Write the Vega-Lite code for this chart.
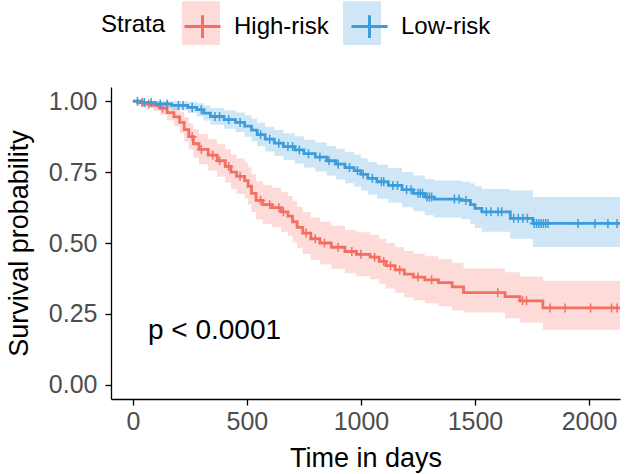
{
  "$schema": "https://vega.github.io/schema/vega-lite/v6.json",
  "width": 509,
  "height": 312,
  "autosize": "none",
  "padding": {"left": 111, "top": 87, "right": 10, "bottom": 75},
  "config": {
    "view": {"stroke": null},
    "font": "Liberation Sans",
    "axis": {
      "grid": false,
      "domainColor": "#000000",
      "domainWidth": 1.3,
      "tickColor": "#000000",
      "tickWidth": 1.3,
      "tickSize": 6,
      "labelColor": "#4D4D4D",
      "labelFontSize": 25,
      "labelFont": "Liberation Sans",
      "titleFont": "Liberation Sans",
      "titleFontSize": 27,
      "titleFontWeight": "normal",
      "titleColor": "#000000"
    },
    "legend": {
      "labelFont": "Liberation Sans",
      "titleFont": "Liberation Sans"
    }
  },
  "datasets": {
    "curve": [
      {"strata": "High-risk", "time": 0, "surv": 1.0, "lower": 1.0, "upper": 1.0},
      {"strata": "High-risk", "time": 20, "surv": 0.995, "lower": 0.985, "upper": 1.0},
      {"strata": "High-risk", "time": 50, "surv": 0.99, "lower": 0.975, "upper": 1.0},
      {"strata": "High-risk", "time": 90, "surv": 0.985, "lower": 0.965, "upper": 1.0},
      {"strata": "High-risk", "time": 120, "surv": 0.975, "lower": 0.952, "upper": 0.998},
      {"strata": "High-risk", "time": 150, "surv": 0.96, "lower": 0.932, "upper": 0.99},
      {"strata": "High-risk", "time": 180, "surv": 0.945, "lower": 0.912, "upper": 0.98},
      {"strata": "High-risk", "time": 205, "surv": 0.925, "lower": 0.888, "upper": 0.963},
      {"strata": "High-risk", "time": 225, "surv": 0.9, "lower": 0.858, "upper": 0.943},
      {"strata": "High-risk", "time": 245, "surv": 0.875, "lower": 0.83, "upper": 0.922},
      {"strata": "High-risk", "time": 265, "surv": 0.85, "lower": 0.8, "upper": 0.9},
      {"strata": "High-risk", "time": 290, "surv": 0.83, "lower": 0.778, "upper": 0.884},
      {"strata": "High-risk", "time": 330, "surv": 0.81, "lower": 0.756, "upper": 0.866},
      {"strata": "High-risk", "time": 370, "surv": 0.79, "lower": 0.734, "upper": 0.848},
      {"strata": "High-risk", "time": 405, "surv": 0.77, "lower": 0.712, "upper": 0.83},
      {"strata": "High-risk", "time": 430, "surv": 0.75, "lower": 0.69, "upper": 0.812},
      {"strata": "High-risk", "time": 455, "surv": 0.735, "lower": 0.673, "upper": 0.798},
      {"strata": "High-risk", "time": 490, "surv": 0.72, "lower": 0.657, "upper": 0.785},
      {"strata": "High-risk", "time": 505, "surv": 0.7, "lower": 0.636, "upper": 0.766},
      {"strata": "High-risk", "time": 520, "surv": 0.675, "lower": 0.609, "upper": 0.742},
      {"strata": "High-risk", "time": 540, "surv": 0.65, "lower": 0.583, "upper": 0.718},
      {"strata": "High-risk", "time": 570, "surv": 0.635, "lower": 0.567, "upper": 0.704},
      {"strata": "High-risk", "time": 610, "surv": 0.625, "lower": 0.556, "upper": 0.695},
      {"strata": "High-risk", "time": 650, "surv": 0.61, "lower": 0.54, "upper": 0.68},
      {"strata": "High-risk", "time": 680, "surv": 0.595, "lower": 0.524, "upper": 0.666},
      {"strata": "High-risk", "time": 700, "surv": 0.575, "lower": 0.503, "upper": 0.647},
      {"strata": "High-risk", "time": 720, "surv": 0.555, "lower": 0.482, "upper": 0.628},
      {"strata": "High-risk", "time": 745, "surv": 0.535, "lower": 0.461, "upper": 0.609},
      {"strata": "High-risk", "time": 780, "surv": 0.515, "lower": 0.44, "upper": 0.59},
      {"strata": "High-risk", "time": 820, "surv": 0.5, "lower": 0.425, "upper": 0.575},
      {"strata": "High-risk", "time": 870, "surv": 0.485, "lower": 0.409, "upper": 0.561},
      {"strata": "High-risk", "time": 930, "surv": 0.47, "lower": 0.393, "upper": 0.547},
      {"strata": "High-risk", "time": 980, "surv": 0.46, "lower": 0.383, "upper": 0.538},
      {"strata": "High-risk", "time": 1040, "surv": 0.45, "lower": 0.372, "upper": 0.529},
      {"strata": "High-risk", "time": 1080, "surv": 0.435, "lower": 0.356, "upper": 0.514},
      {"strata": "High-risk", "time": 1110, "surv": 0.42, "lower": 0.34, "upper": 0.5},
      {"strata": "High-risk", "time": 1150, "surv": 0.405, "lower": 0.325, "upper": 0.486},
      {"strata": "High-risk", "time": 1190, "surv": 0.39, "lower": 0.309, "upper": 0.472},
      {"strata": "High-risk", "time": 1230, "surv": 0.38, "lower": 0.298, "upper": 0.462},
      {"strata": "High-risk", "time": 1280, "surv": 0.37, "lower": 0.288, "upper": 0.453},
      {"strata": "High-risk", "time": 1340, "surv": 0.36, "lower": 0.277, "upper": 0.444},
      {"strata": "High-risk", "time": 1400, "surv": 0.345, "lower": 0.262, "upper": 0.43},
      {"strata": "High-risk", "time": 1450, "surv": 0.325, "lower": 0.255, "upper": 0.41},
      {"strata": "High-risk", "time": 1632, "surv": 0.311, "lower": 0.235, "upper": 0.397},
      {"strata": "High-risk", "time": 1697, "surv": 0.296, "lower": 0.22, "upper": 0.382},
      {"strata": "High-risk", "time": 1798, "surv": 0.271, "lower": 0.194, "upper": 0.367},
      {"strata": "High-risk", "time": 2136, "surv": 0.271, "lower": 0.194, "upper": 0.367},
      {"strata": "Low-risk", "time": 0, "surv": 1.0, "lower": 1.0, "upper": 1.0},
      {"strata": "Low-risk", "time": 40, "surv": 0.995, "lower": 0.985, "upper": 1.0},
      {"strata": "Low-risk", "time": 100, "surv": 0.99, "lower": 0.976, "upper": 1.0},
      {"strata": "Low-risk", "time": 170, "surv": 0.985, "lower": 0.968, "upper": 1.0},
      {"strata": "Low-risk", "time": 240, "surv": 0.978, "lower": 0.958, "upper": 0.998},
      {"strata": "Low-risk", "time": 280, "surv": 0.97, "lower": 0.947, "upper": 0.993},
      {"strata": "Low-risk", "time": 310, "surv": 0.958, "lower": 0.932, "upper": 0.985},
      {"strata": "Low-risk", "time": 340, "surv": 0.946, "lower": 0.917, "upper": 0.976},
      {"strata": "Low-risk", "time": 400, "surv": 0.935, "lower": 0.903, "upper": 0.968},
      {"strata": "Low-risk", "time": 450, "surv": 0.925, "lower": 0.891, "upper": 0.96},
      {"strata": "Low-risk", "time": 490, "surv": 0.912, "lower": 0.875, "upper": 0.95},
      {"strata": "Low-risk", "time": 520, "surv": 0.898, "lower": 0.859, "upper": 0.938},
      {"strata": "Low-risk", "time": 545, "surv": 0.882, "lower": 0.841, "upper": 0.924},
      {"strata": "Low-risk", "time": 580, "surv": 0.866, "lower": 0.823, "upper": 0.91},
      {"strata": "Low-risk", "time": 620, "surv": 0.852, "lower": 0.807, "upper": 0.898},
      {"strata": "Low-risk", "time": 660, "surv": 0.84, "lower": 0.793, "upper": 0.887},
      {"strata": "Low-risk", "time": 710, "surv": 0.828, "lower": 0.78, "upper": 0.876},
      {"strata": "Low-risk", "time": 750, "surv": 0.815, "lower": 0.766, "upper": 0.864},
      {"strata": "Low-risk", "time": 800, "surv": 0.803, "lower": 0.752, "upper": 0.854},
      {"strata": "Low-risk", "time": 850, "surv": 0.79, "lower": 0.738, "upper": 0.842},
      {"strata": "Low-risk", "time": 890, "surv": 0.778, "lower": 0.724, "upper": 0.832},
      {"strata": "Low-risk", "time": 930, "surv": 0.766, "lower": 0.711, "upper": 0.821},
      {"strata": "Low-risk", "time": 970, "surv": 0.755, "lower": 0.699, "upper": 0.811},
      {"strata": "Low-risk", "time": 1000, "surv": 0.742, "lower": 0.685, "upper": 0.799},
      {"strata": "Low-risk", "time": 1030, "surv": 0.728, "lower": 0.67, "upper": 0.786},
      {"strata": "Low-risk", "time": 1070, "surv": 0.716, "lower": 0.656, "upper": 0.776},
      {"strata": "Low-risk", "time": 1120, "surv": 0.703, "lower": 0.642, "upper": 0.764},
      {"strata": "Low-risk", "time": 1180, "surv": 0.688, "lower": 0.626, "upper": 0.75},
      {"strata": "Low-risk", "time": 1230, "surv": 0.675, "lower": 0.612, "upper": 0.738},
      {"strata": "Low-risk", "time": 1280, "surv": 0.662, "lower": 0.598, "upper": 0.726},
      {"strata": "Low-risk", "time": 1320, "surv": 0.655, "lower": 0.59, "upper": 0.72},
      {"strata": "Low-risk", "time": 1440, "surv": 0.65, "lower": 0.584, "upper": 0.716},
      {"strata": "Low-risk", "time": 1480, "surv": 0.635, "lower": 0.567, "upper": 0.71},
      {"strata": "Low-risk", "time": 1500, "surv": 0.622, "lower": 0.553, "upper": 0.7},
      {"strata": "Low-risk", "time": 1530, "surv": 0.61, "lower": 0.54, "upper": 0.69},
      {"strata": "Low-risk", "time": 1655, "surv": 0.587, "lower": 0.515, "upper": 0.685},
      {"strata": "Low-risk", "time": 1754, "surv": 0.569, "lower": 0.486, "upper": 0.662},
      {"strata": "Low-risk", "time": 2136, "surv": 0.569, "lower": 0.486, "upper": 0.662}
    ],
    "censor": [
      {"strata": "High-risk", "time": 40, "surv": 0.995},
      {"strata": "High-risk", "time": 70, "surv": 0.99},
      {"strata": "High-risk", "time": 130, "surv": 0.975},
      {"strata": "High-risk", "time": 260, "surv": 0.875},
      {"strata": "High-risk", "time": 300, "surv": 0.83},
      {"strata": "High-risk", "time": 350, "surv": 0.81},
      {"strata": "High-risk", "time": 380, "surv": 0.79},
      {"strata": "High-risk", "time": 420, "surv": 0.77},
      {"strata": "High-risk", "time": 470, "surv": 0.735},
      {"strata": "High-risk", "time": 560, "surv": 0.65},
      {"strata": "High-risk", "time": 600, "surv": 0.635},
      {"strata": "High-risk", "time": 640, "surv": 0.625},
      {"strata": "High-risk", "time": 660, "surv": 0.61},
      {"strata": "High-risk", "time": 760, "surv": 0.535},
      {"strata": "High-risk", "time": 800, "surv": 0.515},
      {"strata": "High-risk", "time": 840, "surv": 0.5},
      {"strata": "High-risk", "time": 900, "surv": 0.485},
      {"strata": "High-risk", "time": 960, "surv": 0.47},
      {"strata": "High-risk", "time": 1000, "surv": 0.46},
      {"strata": "High-risk", "time": 1060, "surv": 0.45},
      {"strata": "High-risk", "time": 1100, "surv": 0.435},
      {"strata": "High-risk", "time": 1130, "surv": 0.42},
      {"strata": "High-risk", "time": 1170, "surv": 0.405},
      {"strata": "High-risk", "time": 1250, "surv": 0.38},
      {"strata": "High-risk", "time": 1310, "surv": 0.37},
      {"strata": "High-risk", "time": 1600, "surv": 0.325},
      {"strata": "High-risk", "time": 1709, "surv": 0.296},
      {"strata": "High-risk", "time": 1726, "surv": 0.296},
      {"strata": "High-risk", "time": 1829, "surv": 0.271},
      {"strata": "High-risk", "time": 1895, "surv": 0.271},
      {"strata": "High-risk", "time": 2007, "surv": 0.271},
      {"strata": "High-risk", "time": 2099, "surv": 0.271},
      {"strata": "High-risk", "time": 2123, "surv": 0.271},
      {"strata": "Low-risk", "time": 20, "surv": 1.0},
      {"strata": "Low-risk", "time": 50, "surv": 0.995},
      {"strata": "Low-risk", "time": 80, "surv": 0.995},
      {"strata": "Low-risk", "time": 120, "surv": 0.99},
      {"strata": "Low-risk", "time": 150, "surv": 0.99},
      {"strata": "Low-risk", "time": 200, "surv": 0.985},
      {"strata": "Low-risk", "time": 220, "surv": 0.985},
      {"strata": "Low-risk", "time": 260, "surv": 0.978},
      {"strata": "Low-risk", "time": 300, "surv": 0.97},
      {"strata": "Low-risk", "time": 360, "surv": 0.946},
      {"strata": "Low-risk", "time": 380, "surv": 0.946},
      {"strata": "Low-risk", "time": 420, "surv": 0.935},
      {"strata": "Low-risk", "time": 470, "surv": 0.925},
      {"strata": "Low-risk", "time": 560, "surv": 0.882},
      {"strata": "Low-risk", "time": 600, "surv": 0.866},
      {"strata": "Low-risk", "time": 640, "surv": 0.852},
      {"strata": "Low-risk", "time": 680, "surv": 0.84},
      {"strata": "Low-risk", "time": 700, "surv": 0.84},
      {"strata": "Low-risk", "time": 730, "surv": 0.828},
      {"strata": "Low-risk", "time": 770, "surv": 0.815},
      {"strata": "Low-risk", "time": 820, "surv": 0.803},
      {"strata": "Low-risk", "time": 860, "surv": 0.79},
      {"strata": "Low-risk", "time": 900, "surv": 0.778},
      {"strata": "Low-risk", "time": 950, "surv": 0.766},
      {"strata": "Low-risk", "time": 985, "surv": 0.755},
      {"strata": "Low-risk", "time": 1010, "surv": 0.742},
      {"strata": "Low-risk", "time": 1050, "surv": 0.728},
      {"strata": "Low-risk", "time": 1090, "surv": 0.716},
      {"strata": "Low-risk", "time": 1100, "surv": 0.716},
      {"strata": "Low-risk", "time": 1140, "surv": 0.703},
      {"strata": "Low-risk", "time": 1160, "surv": 0.703},
      {"strata": "Low-risk", "time": 1200, "surv": 0.688},
      {"strata": "Low-risk", "time": 1220, "surv": 0.688},
      {"strata": "Low-risk", "time": 1250, "surv": 0.675},
      {"strata": "Low-risk", "time": 1260, "surv": 0.675},
      {"strata": "Low-risk", "time": 1270, "surv": 0.675},
      {"strata": "Low-risk", "time": 1290, "surv": 0.662},
      {"strata": "Low-risk", "time": 1300, "surv": 0.662},
      {"strata": "Low-risk", "time": 1310, "surv": 0.662},
      {"strata": "Low-risk", "time": 1410, "surv": 0.655},
      {"strata": "Low-risk", "time": 1430, "surv": 0.655},
      {"strata": "Low-risk", "time": 1460, "surv": 0.65},
      {"strata": "Low-risk", "time": 1550, "surv": 0.61},
      {"strata": "Low-risk", "time": 1570, "surv": 0.61},
      {"strata": "Low-risk", "time": 1601, "surv": 0.61},
      {"strata": "Low-risk", "time": 1617, "surv": 0.61},
      {"strata": "Low-risk", "time": 1670, "surv": 0.587},
      {"strata": "Low-risk", "time": 1690, "surv": 0.587},
      {"strata": "Low-risk", "time": 1710, "surv": 0.587},
      {"strata": "Low-risk", "time": 1730, "surv": 0.587},
      {"strata": "Low-risk", "time": 1760, "surv": 0.569},
      {"strata": "Low-risk", "time": 1770, "surv": 0.569},
      {"strata": "Low-risk", "time": 1780, "surv": 0.569},
      {"strata": "Low-risk", "time": 1790, "surv": 0.569},
      {"strata": "Low-risk", "time": 1800, "surv": 0.569},
      {"strata": "Low-risk", "time": 1810, "surv": 0.569},
      {"strata": "Low-risk", "time": 1820, "surv": 0.569},
      {"strata": "Low-risk", "time": 1952, "surv": 0.569},
      {"strata": "Low-risk", "time": 2026, "surv": 0.569},
      {"strata": "Low-risk", "time": 2083, "surv": 0.569},
      {"strata": "Low-risk", "time": 2123, "surv": 0.569}
    ],
    "pval": [
      {"label": "p < 0.0001", "time": 66, "surv": 0.19}
    ]
  },
  "layer": [
    {
      "data": {"name": "curve"},
      "mark": {"type": "area", "interpolate": "step-after", "fillOpacity": 0.25, "clip": true},
      "encoding": {
        "x": {
          "field": "time", "type": "quantitative",
          "scale": {"domain": [-96, 2136], "nice": false, "zero": false},
          "axis": {"values": [0, 500, 1000, 1500, 2000], "format": "d", "title": "Time in days", "labelPadding": 4, "titlePadding": 11}
        },
        "y": {
          "field": "lower", "type": "quantitative",
          "scale": {"domain": [-0.05, 1.05], "nice": false, "zero": false},
          "axis": {"values": [0, 0.25, 0.5, 0.75, 1], "format": ".2f", "title": "Survival probability", "labelPadding": 8, "titlePadding": 15}
        },
        "y2": {"field": "upper"},
        "fill": {
          "field": "strata", "type": "nominal",
          "scale": {"domain": ["High-risk", "Low-risk"], "range": ["#F26F63", "#3D9CDA"]},
          "legend": {
            "orient": "none", "legendX": 71, "legendY": -83, "direction": "horizontal",
            "title": null,
            "labelExpr": "''", "labelOffset": 0, "labelFontSize": 1,
            "columnPadding": 123, "padding": 0,
            "symbolType": "M-1,-1.15L1,-1.15L1,1.15L-1,1.15Z", "symbolSize": 1444, "symbolOpacity": 0.25, "symbolStrokeWidth": 0
          }
        }
      }
    },
    {
      "data": {"name": "curve"},
      "mark": {"type": "line", "interpolate": "step-after", "strokeWidth": 2.8, "clip": true},
      "encoding": {
        "x": {"field": "time", "type": "quantitative"},
        "y": {"field": "surv", "type": "quantitative"},
        "stroke": {
          "field": "strata", "type": "nominal",
          "scale": {"range": ["#F26F63", "#3D9CDA"]},
          "legend": {
            "orient": "none", "legendX": -10, "legendY": -81, "direction": "horizontal",
            "title": "Strata", "titleOrient": "left", "titleAnchor": "middle", "titleBaseline": "middle",
            "titleFontSize": 24, "titleFontWeight": "normal", "titleColor": "#000000", "titlePadding": 16,
            "labelFontSize": 24, "labelColor": "#000000", "labelOffset": 11,
            "columnPadding": 16, "padding": 0,
            "symbolType": "M-0.95,0L0.95,0M0,-0.6L0,0.6", "symbolSize": 1444, "symbolStrokeWidth": 3, "symbolFillColor": "transparent"
          }
        }
      }
    },
    {
      "data": {"name": "censor"},
      "mark": {"type": "point", "shape": "M0,-1L0,1M-1,0L1,0", "size": 81, "strokeWidth": 1.5, "filled": false, "opacity": 1, "clip": true},
      "encoding": {
        "x": {"field": "time", "type": "quantitative"},
        "y": {"field": "surv", "type": "quantitative"},
        "stroke": {"field": "strata", "type": "nominal"}
      }
    },
    {
      "data": {"name": "pval"},
      "mark": {"type": "text", "align": "left", "baseline": "middle", "fontSize": 28, "font": "Liberation Sans", "color": "#000000"},
      "encoding": {
        "x": {"field": "time", "type": "quantitative"},
        "y": {"field": "surv", "type": "quantitative"},
        "text": {"field": "label"}
      }
    }
  ]
}
